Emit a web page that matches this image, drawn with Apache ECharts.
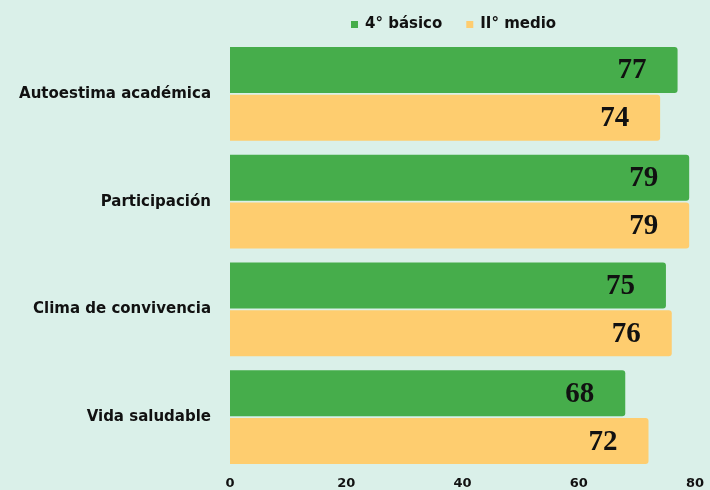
<!DOCTYPE html>
<html>
<head>
<meta charset="utf-8">
<script src="https://cdn.jsdelivr.net/npm/echarts@6/dist/echarts.min.js"></script>
<style>
  html, body { margin: 0; padding: 0; background: #daf0e9; }
  #chart { width: 710px; height: 490px; }
</style>
</head>
<body>
<div id="chart"></div>
<script>
// Dimensiones evaluadas (de arriba hacia abajo)
const categories = ['Autoestima académica', 'Participación', 'Clima de convivencia', 'Vida saludable'];
const basico4 = [77, 79, 75, 68];
const medio2 = [74, 79, 76, 72];
const xTicks = [0, 20, 40, 60, 80];

const chart = echarts.init(document.getElementById('chart'));

const sansFont = 'DejaVu Sans, sans-serif';

const labelStyle = {
  show: true,
  position: 'insideRight',
  distance: 31,
  offset: [0, 1],
  fontFamily: 'Liberation Serif, DejaVu Serif, serif',
  fontWeight: 'bold',
  fontSize: 29,
  color: '#111'
};

chart.setOption({
  backgroundColor: '#daf0e9',
  animation: false,
  legend: {
    top: 12,
    left: 346,
    itemWidth: 7,
    itemHeight: 7,
    itemGap: 24,
    icon: 'rect',
    textStyle: { fontFamily: sansFont, fontWeight: 'bold', fontSize: 15, color: '#111', padding: [0, 0, 0, 2] },
    data: ['4° básico', 'II° medio']
  },
  grid: { left: 230, right: 15, top: 40, bottom: 16 },
  xAxis: {
    type: 'value',
    min: xTicks[0],
    max: xTicks[xTicks.length - 1],
    interval: 20,
    axisLine: { show: false },
    axisTick: { show: false },
    splitLine: { show: false },
    axisLabel: {
      margin: 6,
      fontFamily: sansFont,
      fontWeight: 'bold',
      fontSize: 13,
      color: '#111'
    }
  },
  yAxis: {
    type: 'category',
    inverse: true,
    data: categories,
    axisLine: { show: false },
    axisTick: { show: false },
    axisLabel: {
      margin: 19,
      fontFamily: sansFont,
      fontWeight: 'bold',
      fontSize: 15,
      color: '#111'
    }
  },
  series: [
    {
      name: '4° básico',
      type: 'bar',
      data: basico4,
      barWidth: 46,
      barGap: '4%',
      itemStyle: { color: '#46ad4b', borderRadius: [0, 3, 3, 0] },
      label: labelStyle
    },
    {
      name: 'II° medio',
      type: 'bar',
      data: medio2,
      barWidth: 46,
      itemStyle: { color: '#fecd6f', borderRadius: [0, 3, 3, 0] },
      label: labelStyle
    }
  ]
});
</script>
</body>
</html>
